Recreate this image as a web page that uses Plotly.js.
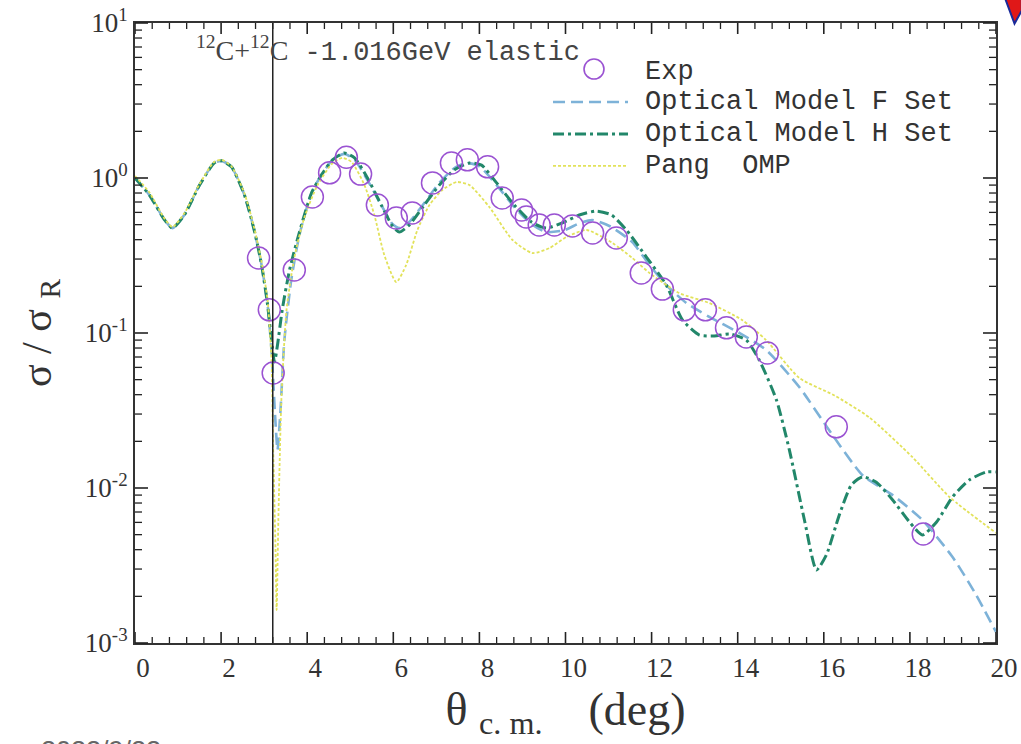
<!DOCTYPE html>
<html>
<head>
<meta charset="utf-8">
<script src="https://cdn.plot.ly/plotly-3.0.1.min.js"></script>
<style>
  html, body { margin: 0; padding: 0; background: #fff; }
  #chart { width: 1021px; height: 744px; }
</style>
</head>
<body>
<div id="chart"></div>
<script>
// ---- Data ----
const expTheta = [2.87,3.12,3.21,3.70,4.12,4.52,4.91,5.24,5.63,6.07,6.44,6.91,7.35,7.72,8.19,8.53,8.98,9.09,9.39,9.74,10.16,10.63,11.18,11.76,12.25,12.76,13.25,13.74,14.20,14.69,16.29,18.31];
const expRatio = [0.305,0.141,0.0552,0.255,0.754,1.08,1.36,1.06,0.67,0.552,0.594,0.93,1.25,1.31,1.18,0.743,0.622,0.56,0.497,0.497,0.49,0.442,0.41,0.244,0.192,0.141,0.141,0.108,0.0942,0.0743,0.0248,0.00505];

const fTheta = [0,0.33,0.68,0.87,1.15,1.50,1.84,2.01,2.24,2.54,2.77,2.94,3.08,3.17,3.26,3.31,3.38,3.47,3.63,3.82,4.10,4.33,4.59,4.86,5.10,5.40,5.72,5.98,6.14,6.37,6.72,7.07,7.42,7.70,8.00,8.40,8.81,9.21,9.55,9.97,10.32,10.62,11.02,11.55,11.95,12.34,12.81,13.34,14.04,14.66,15.43,16.20,16.90,17.60,18.29,18.99,19.50,20.0];
const fRatio = [1.0,0.78,0.54,0.475,0.58,0.90,1.25,1.29,1.18,0.78,0.46,0.275,0.152,0.0777,0.0275,0.0176,0.0318,0.090,0.22,0.43,0.80,1.045,1.31,1.43,1.31,0.97,0.67,0.505,0.475,0.52,0.69,0.93,1.16,1.25,1.19,0.90,0.65,0.505,0.448,0.46,0.51,0.535,0.49,0.386,0.275,0.204,0.156,0.127,0.100,0.0777,0.0448,0.022,0.0121,0.009,0.00622,0.00359,0.00213,0.00118];

const hTheta = [0,0.33,0.68,0.87,1.15,1.50,1.84,2.01,2.24,2.54,2.77,2.94,3.08,3.17,3.24,3.31,3.42,3.59,3.82,4.10,4.33,4.59,4.86,5.10,5.40,5.72,5.98,6.14,6.37,6.72,7.07,7.42,7.77,8.05,8.40,8.81,9.21,9.55,9.97,10.32,10.72,11.07,11.42,11.88,12.34,12.72,13.11,13.46,13.81,14.20,14.50,14.90,15.20,15.55,15.83,16.06,16.36,16.64,16.90,17.22,17.60,17.99,18.29,18.62,18.99,19.38,19.78,20.0];
const hRatio = [1.0,0.78,0.54,0.475,0.58,0.90,1.25,1.29,1.18,0.78,0.46,0.275,0.152,0.090,0.065,0.0837,0.141,0.255,0.448,0.80,1.045,1.31,1.45,1.35,1.0,0.67,0.49,0.448,0.497,0.67,0.90,1.13,1.25,1.21,0.93,0.67,0.52,0.475,0.52,0.577,0.612,0.577,0.46,0.309,0.204,0.121,0.097,0.0957,0.0986,0.090,0.067,0.037,0.0176,0.00622,0.00296,0.0037,0.0067,0.01045,0.0118,0.0109,0.00837,0.00604,0.00498,0.00604,0.00875,0.01127,0.0127,0.0127];

const pangTheta = [0,0.33,0.68,0.87,1.15,1.50,1.84,2.01,2.24,2.54,2.77,2.94,3.08,3.17,3.21,3.26,3.29,3.33,3.40,3.52,3.70,3.93,4.24,4.59,4.82,5.03,5.33,5.56,5.79,6.07,6.30,6.56,6.84,7.14,7.47,7.77,8.23,8.77,9.23,9.63,10.02,10.49,11.09,11.55,11.95,12.64,13.34,14.11,14.66,15.43,16.25,17.06,18.06,18.92,20.0];
const pangRatio = [1.03,0.81,0.55,0.483,0.594,0.915,1.27,1.31,1.19,0.80,0.475,0.287,0.163,0.067,0.0176,0.00462,0.00163,0.00622,0.037,0.141,0.305,0.552,0.90,1.25,1.35,1.27,0.90,0.577,0.319,0.213,0.275,0.462,0.67,0.837,0.942,0.90,0.65,0.398,0.328,0.353,0.416,0.462,0.381,0.305,0.244,0.181,0.156,0.121,0.090,0.0513,0.0395,0.0285,0.0158,0.00875,0.00513];

const markerLineTheta = 3.2;
const seriesNames = ['Exp', 'Optical Model F Set', 'Optical Model H Set', 'Pang  OMP'];
const xMajorTicks = [0,2,4,6,8,10,12,14,16,18,20];
const xMinorTicks = [0.4,0.8,1.2,1.6,2.4,2.8,3.2,3.6,4.4,4.8,5.2,5.6,6.4,6.8,7.2,7.6,8.4,8.8,9.2,9.6,10.4,10.8,11.2,11.6,12.4,12.8,13.2,13.6,14.4,14.8,15.2,15.6,16.4,16.8,17.2,17.6,18.4,18.8,19.2,19.6];
const yTickVals = [0.001, 0.01, 0.1, 1, 10];
const yTickText = ['10<sup>-3</sup>', '10<sup>-2</sup>', '10<sup>-1</sup>', '10<sup>0</sup>', '10<sup>1</sup>'];
const yMinorTicks = [0.002,0.003,0.004,0.005,0.006,0.007,0.008,0.009,0.02,0.03,0.04,0.05,0.06,0.07,0.08,0.09,0.2,0.3,0.4,0.5,0.6,0.7,0.8,0.9,2,3,4,5,6,7,8,9];
const dateText = '2022/9/22';

// ---- Styles ----
const colExp = '#9a52d2';
const colF = '#7db2d8';
const colH = '#22876a';
const colPang = '#e2e25a';
const dashF = '12px,6px';
const dashH = '11px,4px,3px,4px';
const dashPang = '3px,2px';

const traces = [
  { x: fTheta, y: fRatio, type: 'scatter', mode: 'lines', name: seriesNames[1],
    line: { color: colF, width: 2.6, dash: dashF, shape: 'spline', smoothing: 0.6 }, showlegend: false },
  { x: hTheta, y: hRatio, type: 'scatter', mode: 'lines', name: seriesNames[2],
    line: { color: colH, width: 3, dash: dashH, shape: 'spline', smoothing: 0.6 }, showlegend: false },
  { x: pangTheta, y: pangRatio, type: 'scatter', mode: 'lines', name: seriesNames[3],
    line: { color: colPang, width: 1.8, dash: dashPang, shape: 'spline', smoothing: 0.6 }, showlegend: false },
  { x: expTheta, y: expRatio, type: 'scatter', mode: 'markers', name: seriesNames[0],
    marker: { symbol: 'circle-open', size: 22, color: colExp, line: { width: 1.5, color: colExp } }, showlegend: false }
];

// plot-area size in px (for tick lengths)
const W = 1021 - 135 - 25, H = 744 - 23 - 101;
const Y_LOG_MIN = -3, Y_LOG_MAX = 1;

// legend geometry (paper coords)
const L = { lineX0: 0.4855, lineX1: 0.5726, textX: 0.5900, rows: [0.921, 0.8726, 0.821, 0.7694] };
const legendStyles = [null, { color: colF, width: 2.6, dash: dashF }, { color: colH, width: 3, dash: dashH }, { color: colPang, width: 1.8, dash: dashPang }];

const shapes = [
  { type: 'line', xref: 'x', yref: 'paper', x0: markerLineTheta, x1: markerLineTheta, y0: 0, y1: 1,
    line: { color: '#222', width: 1.5 } },
  { type: 'circle', xref: 'paper', yref: 'paper', x0: 0.5215, x1: 0.5447, y0: 0.9097, y1: 0.9419,
    line: { color: colExp, width: 1.6 } },
  { type: 'path', xref: 'paper', yref: 'paper',
    path: 'M 1.0105 1.04 L 1.03 1.04 L 1.03 1.02 L 1.0215 0.999 Z',
    fillcolor: '#e01818', line: { color: '#1a2a9a', width: 2 } }
];
for (let i = 1; i < 4; i++) {
  shapes.push({ type: 'line', xref: 'paper', yref: 'paper', x0: L.lineX0, x1: L.lineX1, y0: L.rows[i], y1: L.rows[i],
    line: legendStyles[i] });
}

// inside ticks on all four sides (built from the tick arrays)
function addXTicks(vals, lenPx, w) {
  const d = lenPx / H;
  vals.forEach(v => {
    shapes.push({ type: 'line', xref: 'x', yref: 'paper', x0: v, x1: v, y0: 0, y1: d, line: { color: '#222', width: w } });
    shapes.push({ type: 'line', xref: 'x', yref: 'paper', x0: v, x1: v, y0: 1, y1: 1 - d, line: { color: '#222', width: w } });
  });
}
function addYTicks(vals, lenPx, w) {
  const d = lenPx / W;
  vals.forEach(v => {
    const p = (Math.log10(v) - Y_LOG_MIN) / (Y_LOG_MAX - Y_LOG_MIN);
    shapes.push({ type: 'line', xref: 'paper', yref: 'paper', x0: 0, x1: d, y0: p, y1: p, line: { color: '#222', width: w } });
    shapes.push({ type: 'line', xref: 'paper', yref: 'paper', x0: 1, x1: 1 - d, y0: p, y1: p, line: { color: '#222', width: w } });
  });
}
addXTicks(xMajorTicks, 11, 1.6);
addXTicks(xMinorTicks, 6, 1.3);
addYTicks(yTickVals, 13, 1.6);
addYTicks(yMinorTicks, 7, 1.3);

const annotations = [
  { xref: 'paper', yref: 'paper', x: 0.068, y: 0.958, xanchor: 'left', yanchor: 'middle', showarrow: false,
    text: '<span style="font-family:Liberation Serif;font-size:28px">' + '<sup>12</sup>C+<sup>12</sup>C' + '</span> -1.016GeV elastic',
    font: { family: 'Liberation Mono', size: 27, color: '#444' } },
  { xref: 'paper', yref: 'paper', x: -0.112, y: -0.146, xanchor: 'left', yanchor: 'top', showarrow: false,
    text: dateText, font: { family: 'Liberation Sans', size: 27, color: '#666' } }
];
for (let i = 0; i < 4; i++) {
  annotations.push({ xref: 'paper', yref: 'paper', x: L.textX, y: L.rows[i], xanchor: 'left', yanchor: 'middle',
    showarrow: false, text: seriesNames[i], font: { family: 'Liberation Mono', size: 27, color: '#333' } });
}

const layout = {
  width: 1021, height: 744,
  margin: { l: 135, r: 25, t: 23, b: 101, pad: 0 },
  paper_bgcolor: '#fff', plot_bgcolor: '#fff',
  showlegend: false,
  xaxis: {
    range: [0, 20], tickmode: 'array', tickvals: xMajorTicks, ticks: '',
    showline: true, linecolor: '#333', linewidth: 2, mirror: true, showgrid: false, zeroline: false,
    tickfont: { family: 'Liberation Serif', size: 27, color: '#333' },
    ticklabelshift: 8,
    title: { text: 'θ <sub>c. m.</sub>    (deg)', font: { family: 'Liberation Serif', size: 46, color: '#333' }, standoff: 10 }
  },
  yaxis: {
    type: 'log', range: [Y_LOG_MIN, Y_LOG_MAX], tickmode: 'array', tickvals: yTickVals, ticktext: yTickText, ticks: '',
    showline: true, linecolor: '#333', linewidth: 2, mirror: true, showgrid: false, zeroline: false,
    tickfont: { family: 'Liberation Serif', size: 27, color: '#333' },
    title: { text: 'σ / σ <sub>R</sub>', font: { family: 'Liberation Serif', size: 42, color: '#333' }, standoff: 20 }
  },
  shapes: shapes,
  annotations: annotations
};

Plotly.newPlot('chart', traces, layout, { displayModeBar: false });
</script>
</body>
</html>
